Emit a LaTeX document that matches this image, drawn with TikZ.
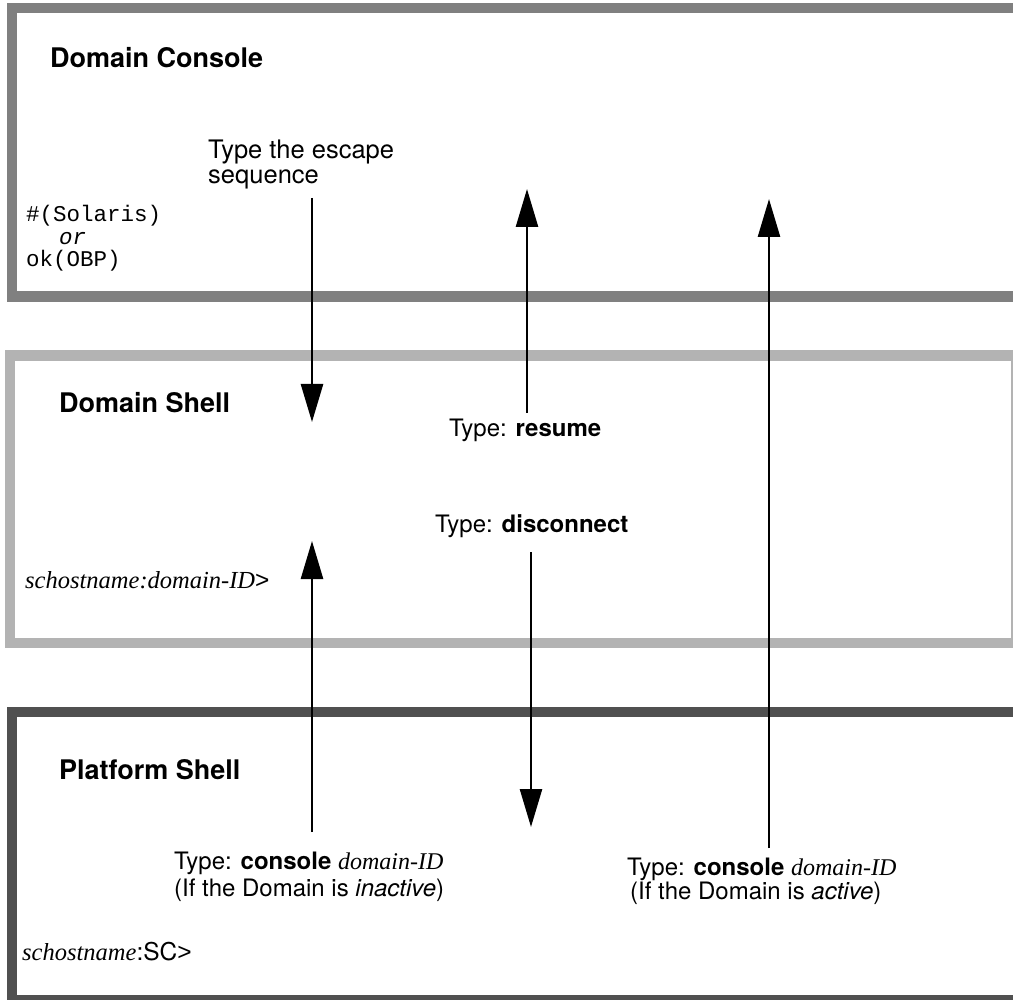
\documentclass[tikz,border=0pt]{standalone}
\usepackage{fontspec}
\setmainfont{TeX Gyre Heros}
\newfontfamily\monofont{Liberation Mono}
\newfontfamily\pfont{Liberation Serif}
\newfontfamily\gtfont{Liberation Sans}
\usetikzlibrary{arrows.meta}
\definecolor{cbox}{HTML}{808080}
\definecolor{sbox}{HTML}{B3B3B3}
\definecolor{pbox}{HTML}{505050}
\tikzset{
  frame/.style={line width=10.5pt},
  flow/.style={line width=2.6pt, -{Triangle[length=38pt,width=22pt]}},
  head/.style={font=\fontsize{27}{30}\selectfont\bfseries, anchor=west, inner sep=0pt},
  lbl/.style={font=\fontsize{24}{25}\selectfont, anchor=west, inner sep=0pt, align=left},
  prompt/.style={font=\fontsize{24.5}{25}\selectfont, anchor=west, inner sep=0pt},
  mono/.style={font=\monofont\fontsize{22.5}{20}\selectfont, anchor=base west, inner sep=0pt, text height=13pt, text depth=2pt}
}
\begin{document}
\begin{tikzpicture}[x=1pt,y=-1pt]
\useasboundingbox (0,0) rectangle (1013,1000);
\clip (0,0) rectangle (1013,1000);
% frames
\draw[frame,cbox] (12,8) rectangle (1040,296.5);
\draw[frame,sbox] (10,355.5) rectangle (1016.5,643);
\draw[frame,pbox] (12,712) rectangle (1040,1000.5);
% headings
\node[head] (hcons) at (50,58) {Domain Console};
\node[head] (hshell) at (59,403) {Domain Shell};
\node[head] (hplat) at (59,770) {Platform Shell};
% prompts
\node[mono] (pcons1) at (26,222) {\#(Solaris)};
\node[mono] (pcons2) at (59,244.5) {\textit{or}};
\node[mono] (pcons3) at (26,267) {ok(OBP)};
\node[prompt] (pshell) at (25,580) {{\pfont\itshape schostname:domain-ID}{\gtfont >}};
\node[prompt] (pplat) at (22,952) {{\pfont\itshape schostname}:SC{\gtfont >}};
% labels
\node[lbl, font=\fontsize{25.5}{25}\selectfont] (esc) at (208,164.5) {Type the escape\\sequence};
\node[lbl] (res) at (449,430) {Type: \textbf{resume}};
\node[lbl] (disc) at (435,526) {Type: \textbf{disconnect}};
\node[lbl, font=\fontsize{24}{27}\selectfont] (inact) at (174,876.5) {Type: \textbf{console} {\pfont\itshape domain-ID}\\(If the Domain is \textit{inactive})};
\node[lbl, font=\fontsize{24}{22}\selectfont] (act) at (627,881) {Type: \textbf{console} {\pfont\itshape domain-ID}\\\hspace*{3pt}(If the Domain is \textit{active})};
% arrow end points
\coordinate (a1s) at (312,198);
\coordinate (a1e) at (312,422);
\coordinate (a2s) at (527,413);
\coordinate (a2e) at (527,189);
\coordinate (a3s) at (769,848);
\coordinate (a3e) at (769,199);
\coordinate (a4s) at (531,552);
\coordinate (a4e) at (531,827);
\coordinate (a5s) at (312,832);
\coordinate (a5e) at (312,541);
% arrows
\draw[flow] (a1s) -- (a1e);
\draw[flow] (a2s) -- (a2e);
\draw[flow] (a3s) -- (a3e);
\draw[flow] (a4s) -- (a4e);
\draw[flow] (a5s) -- (a5e);
\end{tikzpicture}
\end{document}
